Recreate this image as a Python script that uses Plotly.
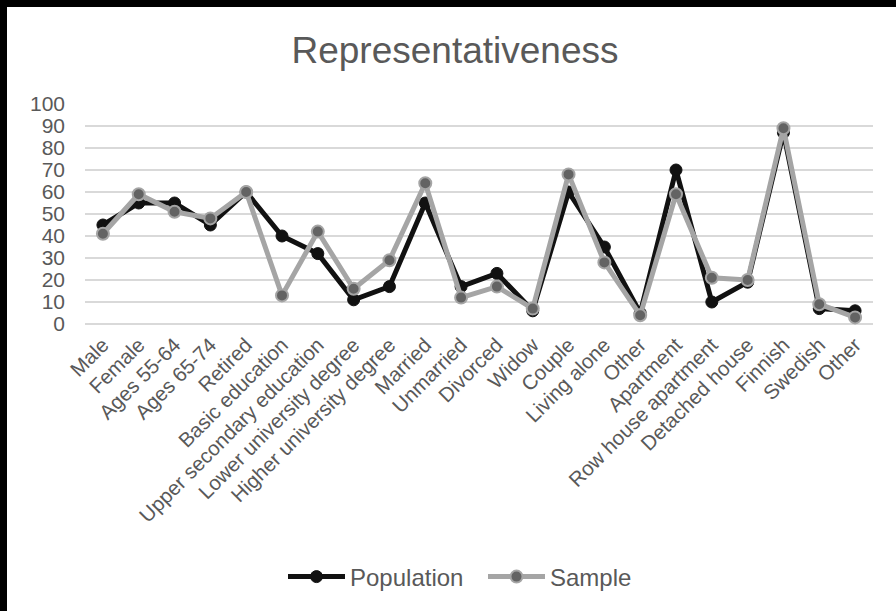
import plotly.graph_objects as go

# Categories and shares (%) for the population and the survey sample
categories = [
    "Male", "Female", "Ages 55-64", "Ages 65-74", "Retired",
    "Basic education", "Upper secondary education", "Lower university degree",
    "Higher university degree", "Married", "Unmarried", "Divorced", "Widow",
    "Couple", "Living alone", "Other", "Apartment", "Row house apartment",
    "Detached house", "Finnish", "Swedish", "Other",
]
population = [45, 55, 55, 45, 60, 40, 32, 11, 17, 55, 17, 23, 6, 60, 35, 5, 70, 10, 19, 87, 7, 6]
sample = [41, 59, 51, 48, 60, 13, 42, 16, 29, 64, 12, 17, 7, 68, 28, 4, 59, 21, 20, 89, 9, 3]
y_ticks = [0, 10, 20, 30, 40, 50, 60, 70, 80, 90, 100]

W, H = 896, 611
ML, MR, MT, MB = 85, 23, 104, 287
plot_w = W - ML - MR
plot_h = H - MT - MB

positions = list(range(len(categories)))
FONT = "Arial, Liberation Sans, sans-serif"
TEXT = "#595959"

fig = go.Figure()
fig.add_trace(go.Scatter(
    x=positions, y=population, name="Population", mode="lines+markers",
    line=dict(color="#111111", width=5),
    marker=dict(color="#111111", size=12, line=dict(color="#111111", width=1)),
    cliponaxis=False,
))
fig.add_trace(go.Scatter(
    x=positions, y=sample, name="Sample", mode="lines+markers",
    line=dict(color="#A5A5A5", width=5),
    marker=dict(color="#636363", size=12, line=dict(color="#A5A5A5", width=2)),
    cliponaxis=False,
))


def px_to_paper_x(px):
    return (px - ML) / plot_w


def px_to_paper_y(py):
    return (H - MB - py) / plot_h


# thin black frame along the left and top edges of the page
frame = [
    dict(x0=px_to_paper_x(0), x1=px_to_paper_x(7), y0=px_to_paper_y(H), y1=px_to_paper_y(0)),
    dict(x0=px_to_paper_x(0), x1=px_to_paper_x(W), y0=px_to_paper_y(7), y1=px_to_paper_y(0)),
]
shapes = [dict(type="rect", xref="paper", yref="paper", fillcolor="black",
               line=dict(width=0), layer="above", **f) for f in frame]

fig.update_layout(
    width=W, height=H,
    margin=dict(l=ML, r=MR, t=MT, b=MB, autoexpand=False),
    paper_bgcolor="white", plot_bgcolor="white",
    font=dict(family=FONT, color=TEXT, size=20),
    title=dict(text="Representativeness", x=455 / W, xanchor="center",
               y=1 - 50 / H, yanchor="middle", yref="container",
               font=dict(size=37, color=TEXT, family=FONT)),
    xaxis=dict(
        range=[-0.5, len(categories) - 0.5],
        tickmode="array", tickvals=positions, ticktext=categories,
        tickangle=-45, showgrid=False, zeroline=False, showline=False,
        ticks="", tickfont=dict(size=20.5, color=TEXT), ticklabelstandoff=4,
    ),
    yaxis=dict(
        range=[0, 100], tickmode="array", tickvals=y_ticks,
        showgrid=True, gridcolor="#D9D9D9", gridwidth=1.8,
        zeroline=True, zerolinecolor="#D9D9D9", zerolinewidth=1.8,
        showline=False, ticks="", tickfont=dict(size=21, color=TEXT),
        ticklabelstandoff=19,
    ),
    legend=dict(
        orientation="h", x=px_to_paper_x(483), xanchor="center",
        y=px_to_paper_y(577), yanchor="middle",
        font=dict(size=24, color=TEXT, family=FONT),
        itemwidth=57, traceorder="normal",
        entrywidth=128, entrywidthmode="pixels",
    ),
    shapes=shapes,
)

fig.write_html("out.html")
